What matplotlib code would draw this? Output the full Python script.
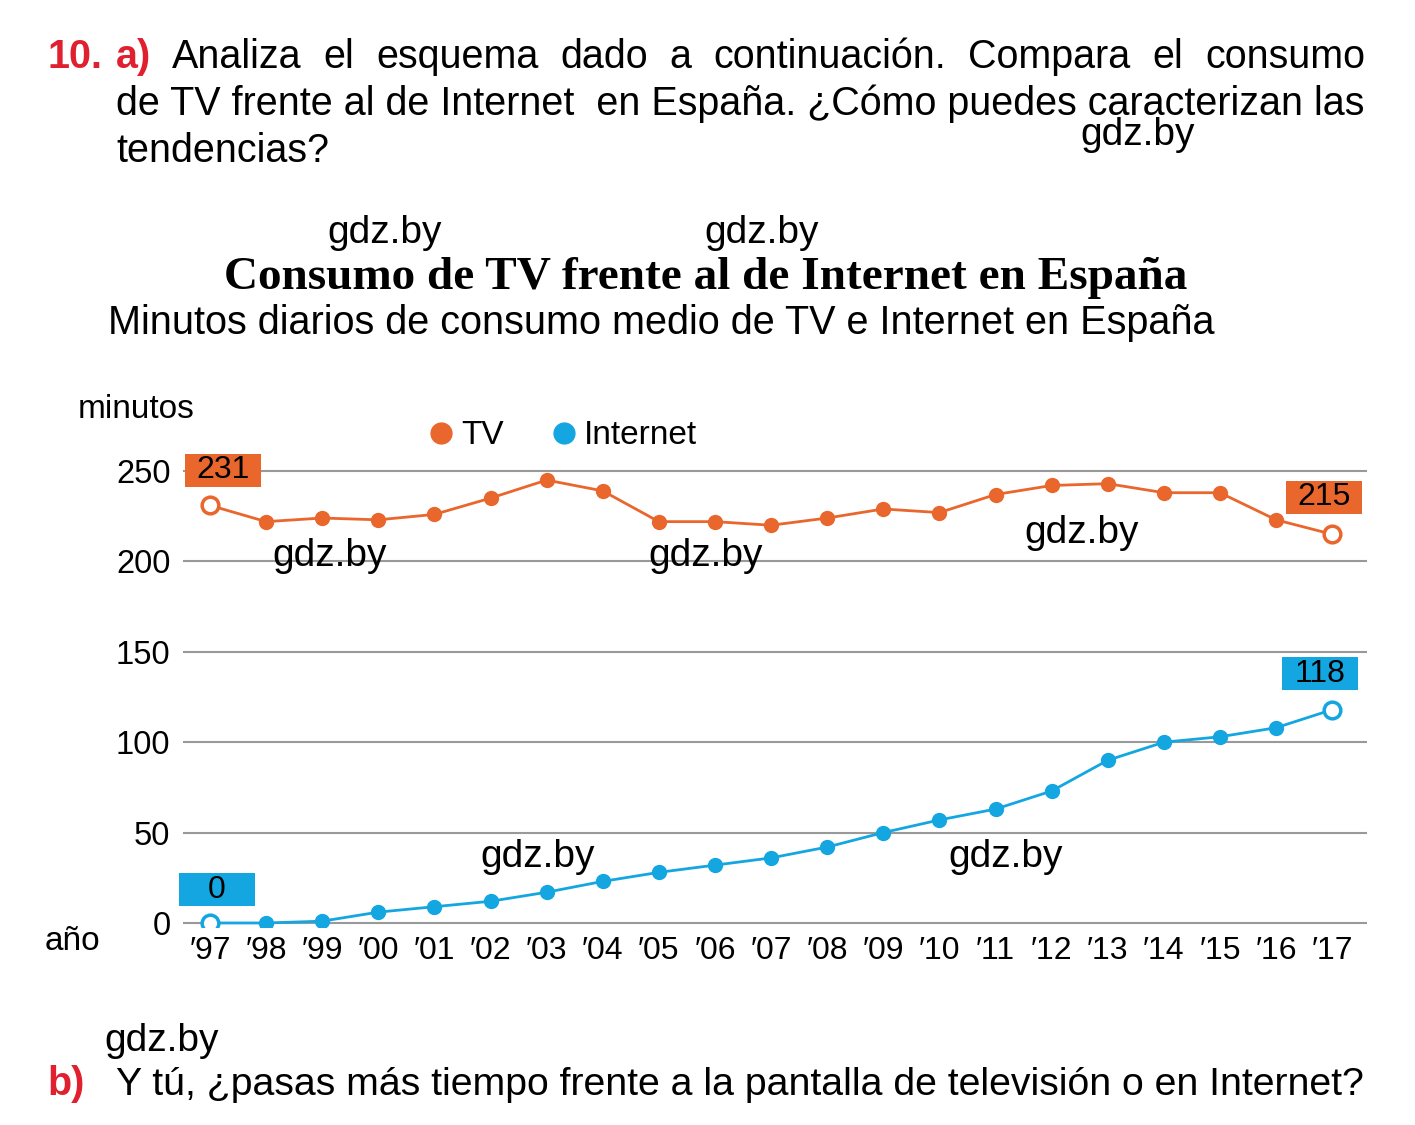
import matplotlib
matplotlib.use("Agg")
import matplotlib.pyplot as plt
import matplotlib.transforms as mtransforms
from matplotlib.patches import Rectangle
from matplotlib.lines import Line2D

plt.rcParams['font.family'] = ['Liberation Sans', 'DejaVu Sans']

# data
years = ["′97", "′98", "′99", "′00", "′01", "′02", "′03", "′04", "′05", "′06", "′07",
         "′08", "′09", "′10", "′11", "′12", "′13", "′14", "′15", "′16", "′17"]
tv = [231, 222, 224, 223, 226, 235, 245, 239, 222, 222, 220,
      224, 229, 227, 237, 242, 243, 238, 238, 223, 215]
internet = [0, 0, 1, 6, 9, 12, 17, 23, 28, 32, 36,
            42, 50, 57, 63, 73, 90, 100, 103, 108, 118]
yticks = [0, 50, 100, 150, 200, 250]

orange = "#E9662C"
blue = "#14A6E1"
red = "#E0202F"

W, H = 1415, 1125
fig = plt.figure(figsize=(W / 100, H / 100), dpi=100)
r = fig.canvas.get_renderer()


def fx(x):
    return x / W


def fy(y):
    return 1 - y / H


def fit(t, width):
    bb = t.get_window_extent(r)
    t.set_fontsize(t.get_fontsize() * width / bb.width)


def justify(words, x0, x1, y, size):
    ts = [fig.text(0, fy(y), w, fontsize=size, va='baseline') for w in words]
    widths = [t.get_window_extent(r).width for t in ts]
    gap = (x1 - x0 - sum(widths)) / (len(ts) - 1)
    x = x0
    for t, w in zip(ts, widths):
        t.set_x(fx(x))
        x += w + gap


# question text
q2 = fig.text(fx(116), fy(115), "de TV frente al de Internet  en España. ¿Cómo puedes caracterizan las",
              fontsize=26, va='baseline')
fit(q2, 1249)
qs = q2.get_fontsize()
fig.text(fx(47), fy(68), "10.", fontsize=qs, color=red, fontweight='bold', va='baseline')
fig.text(fx(116), fy(68), "a)", fontsize=qs, color=red, fontweight='bold', va='baseline')
justify("Analiza el esquema dado a continuación. Compara el consumo".split(), 172, 1365, 68, qs)
fig.text(fx(116), fy(162), "tendencias?", fontsize=qs, va='baseline')

# titles
t1 = fig.text(fx(706), fy(289), "Consumo de TV frente al de Internet en España", fontsize=30,
              family='Liberation Serif', fontweight='bold', ha='center', va='baseline')
fit(t1, 963)
t2 = fig.text(fx(108), fy(334), "Minutos diarios de consumo medio de TV e Internet en España",
              fontsize=26, va='baseline')
fit(t2, 1105)

# bottom question
fig.text(fx(47), fy(1095), "b)", fontsize=qs, color=red, fontweight='bold', va='baseline')
b = fig.text(fx(116), fy(1095), "Y tú, ¿pasas más tiempo frente a la pantalla de televisión o en Internet?",
             fontsize=26, va='baseline')
fit(b, 1249)

# chart
ax = fig.add_axes([fx(183), 0.17636, fx(1367) - fx(183), 0.40817])
x = list(range(len(years)))
ax.plot(x, tv, color=orange, lw=2, marker='o', ms=10, zorder=3)
ax.plot(x, internet, color=blue, lw=2, marker='o', ms=10, zorder=3)
for s, c in [(tv, orange), (internet, blue)]:
    ax.plot([x[0], x[-1]], [s[0], s[-1]], ls='none', marker='o', ms=12, mfc='white',
            mec=c, mew=2.5, zorder=4)

ax.set_xlim(-0.48, 20.62)
ax.set_ylim(-2, 252)
ax.set_yticks(yticks)
ax.set_xticks(x)
ax.set_xticklabels(years)
ax.tick_params(length=0, labelsize=23, pad=7)
ax.tick_params(axis='y', labelsize=23.5, pad=9)
ax.grid(axis='y', color='#999999', lw=1.5)
ax.set_axisbelow(True)
for sp in ax.spines.values():
    sp.set_visible(False)


def tag(i, val, color, dx, dy):
    base = mtransforms.ScaledTranslation(i, val, ax.transData)
    tr = mtransforms.Affine2D().translate(dx, dy) + base
    ax.add_patch(Rectangle((-38, -16.5), 76, 33, transform=tr, facecolor=color,
                           edgecolor='none', clip_on=False, zorder=5))
    ax.text(0, 0, str(val), transform=tr, ha='center', va='center', fontsize=23,
            clip_on=False, zorder=6)


tag(0, tv[0], orange, 13, 35)
tag(20, tv[-1], orange, -8, 37)
tag(0, internet[0], blue, 7, 33)
tag(20, internet[-1], blue, -12, 36)
ax.set_xlim(-0.48, 20.62)
ax.set_ylim(-2, 252)

fig.text(fx(78), fy(410), "minutos", fontsize=24, va='center')
fig.text(fx(45), fy(941), "año", fontsize=24, va='center')

handles = [Line2D([], [], ls='none', marker='o', ms=15, color=orange),
           Line2D([], [], ls='none', marker='o', ms=15, color=blue)]
fig.legend(handles, ["TV", "Internet"], loc='center', bbox_to_anchor=(fx(561), fy(436)),
           ncol=2, frameon=False, fontsize=24, handletextpad=0.1, columnspacing=1.3,
           handlelength=1.0)

# watermarks
for wx, wy in [(1138, 135), (385, 233), (762, 233), (330, 556), (706, 556),
               (1082, 533), (538, 857), (1006, 857), (162, 1041)]:
    fig.text(fx(wx), fy(wy), "gdz.by", fontsize=28, ha='center', va='center', zorder=10)

fig.savefig("out.png", dpi=100, facecolor='white')
